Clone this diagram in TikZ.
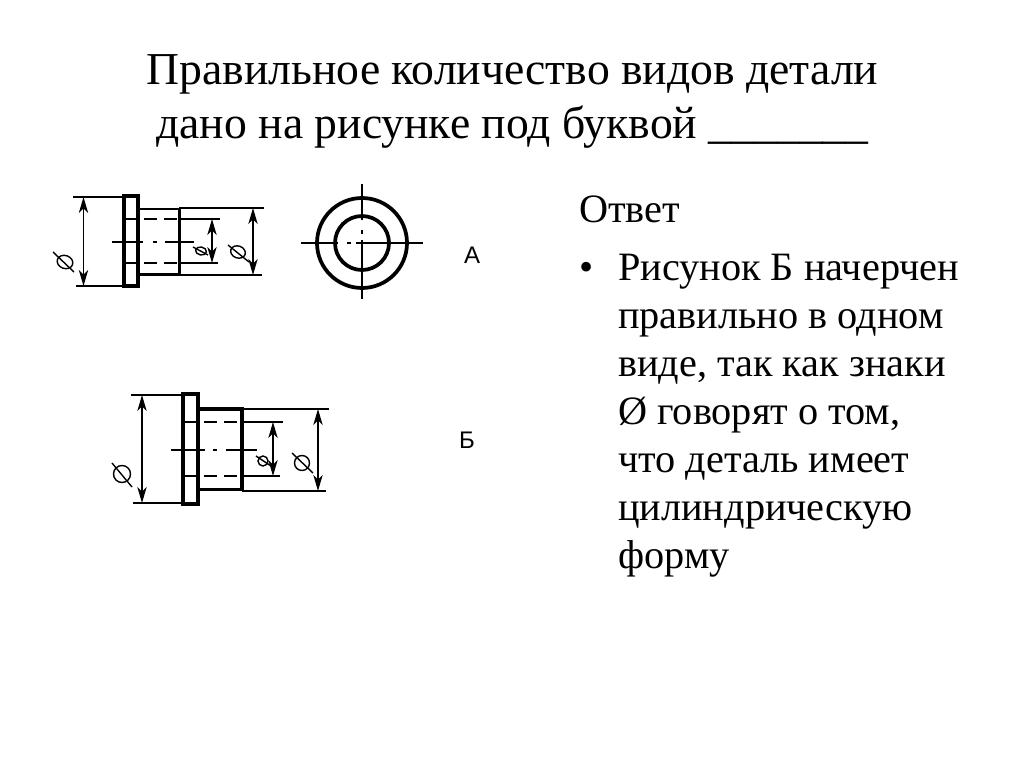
\documentclass[tikz,border=0pt]{standalone}
\usepackage{fontspec}
\setmainfont{Liberation Serif}
\newfontfamily\lsans{Liberation Sans}
\usetikzlibrary{arrows.meta}
\tikzset{
  thin line/.style={line width=1.05pt},
  part/.style={line width=2.8pt},
  hubline/.style={line width=2pt},
  hidden/.style={line width=1pt,dash pattern=on 10pt off 5pt},
  dimarrow/.style={line width=1.15pt,{Stealth[length=12pt,width=7pt,inset=3.5pt]}-{Stealth[length=12pt,width=7pt,inset=3.5pt]}},
  title/.style={font=\fontsize{34.25}{34.25}\selectfont,anchor=base,inner sep=0pt},
  body/.style={font=\fontsize{30.2}{30.2}\selectfont,anchor=base west,inner sep=0pt},
  letter/.style={font=\lsans\fontsize{18}{18}\selectfont,anchor=center,inner sep=0pt}
}
\begin{document}
\begin{tikzpicture}[x=0.75pt,y=-0.75pt]
\useasboundingbox (0,0) rectangle (1024,767);
\node[title] (t1) at (512.5,84.5) {Правильное количество видов детали};
\node[title] (t2) at (512.5,138.5) {дано на рисунке под буквой \_\_\_\_\_\_\_};
\node[body] (otv) at (579,222.5) {Ответ};
\node[body] (bul) at (579,280) {•};
\node[body] (l1) at (618,280) {Рисунок Б начерчен};
\node[body] (l2) at (618,328) {правильно в одном};
\node[body] (l3) at (618,376) {виде, так как знаки};
\node[body] (l4) at (618,424) {Ø говорят о том,};
\node[body] (l5) at (618,472) {что деталь имеет};
\node[body] (l6) at (618,520) {цилиндрическую};
\node[body] (l7) at (618,568) {форму};
\node[letter] (la) at (472,255) {А};
\node[letter] (lb) at (467,440) {Б};
% Figure A: side view
\draw[thin line] (73,197)--(123,197) (76,286)--(123,286);
\draw[thin line] (179,208)--(264,208) (179,275)--(262,275);
\draw[thin line] (179,219)--(220,219) (179,263)--(218,263);
\draw[hidden] (124,219)--(179,219);
\draw[hidden] (124,263)--(179,263);
\draw[part] (124,196) rectangle (138,286);
\draw[hubline] (138,209)--(179,209);
\draw[part] (179.5,208)--(179.5,275) (136,274.5)--(179.5,274.5);
\draw[dimarrow] (83.5,197)--(83.5,286);
\draw[dimarrow] (253,208)--(253,275);
\draw[dimarrow] (212,219)--(212,263);
\draw[thin line] (112,242)--(143,242) (153,242)--(157,242) (165,242)--(194,242);
\draw[thin line,rotate around={-20:(65,262)}] (65,262) ellipse (8 and 6.5);
\draw[thin line] (53,252)--(74,272);
\draw[thin line,rotate around={-10:(201,251)}] (201,251) ellipse (5.5 and 4);
\draw[thin line] (193,247)--(208,255);
\draw[thin line,rotate around={-20:(238,252)}] (238,252) ellipse (7.5 and 6);
\draw[thin line] (228,245)--(249,262);
% Figure A: end view
\draw[part] (362,243) circle (45);
\draw[part] (362,243) circle (27);
\draw[thin line] (301,243)--(338,243) (347,243)--(351,243) (356,243)--(423,243);
\draw[thin line] (362,184)--(362,220) (362,230)--(362,234) (362,240)--(362,299);
% Figure B
\draw[thin line] (131,395)--(183,395) (133,503)--(183,503);
\draw[thin line] (242,409)--(329,409) (242,491)--(326,491);
\draw[thin line] (242,422)--(283,422) (242,476)--(280,476);
\draw[hidden] (184,422)--(242,422);
\draw[hidden] (184,476)--(242,476);
\draw[part] (183,394) rectangle (198,504);
\draw[part] (198,409)--(242,409)--(242,489.5)--(196,489.5);
\draw[dimarrow] (142,395)--(142,503);
\draw[dimarrow] (318,409)--(318,491);
\draw[dimarrow] (273,422)--(273,476);
\draw[thin line] (171,450)--(205,450) (213,450)--(217,450) (226,450)--(257,450);
\draw[thin line] (122,474) circle (8.5);
\draw[thin line] (112,463)--(132,487);
\draw[thin line] (263,461) circle (5);
\draw[thin line] (256,456)--(271,466);
\draw[thin line] (302,463) circle (7.5);
\draw[thin line] (292,453)--(313,473);
\end{tikzpicture}
\end{document}
